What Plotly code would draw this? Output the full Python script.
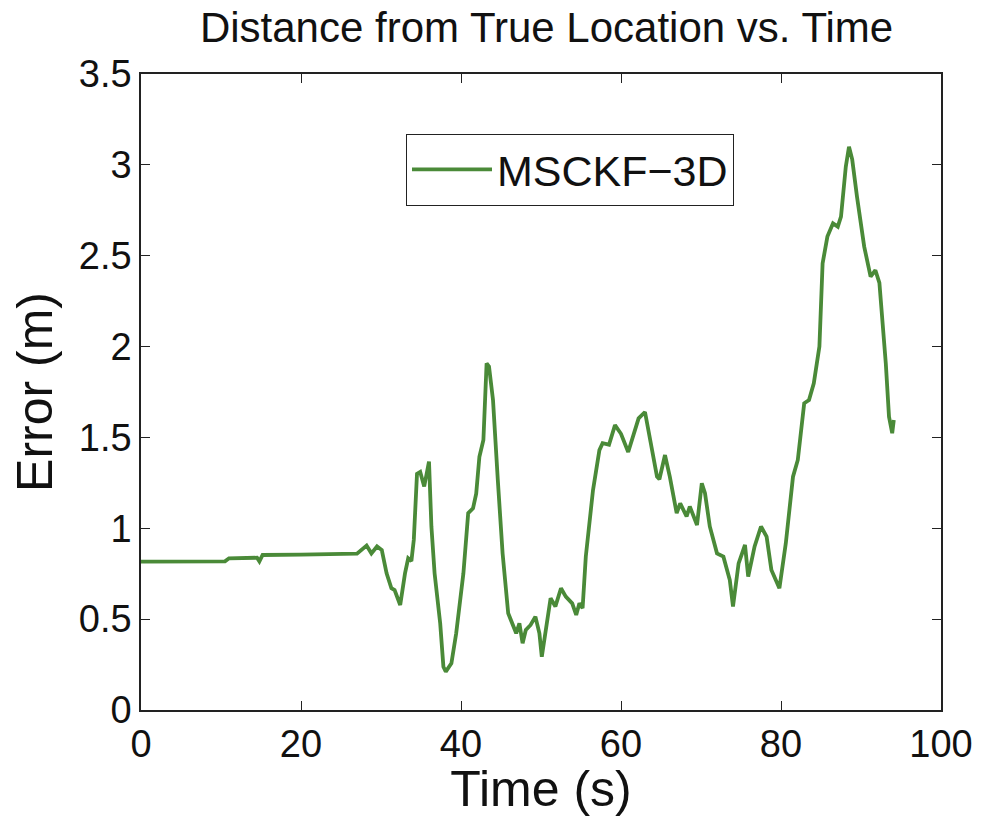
import plotly.graph_objects as go

# Time (s) and error (m)
time_s = [0, 5, 10.5, 11, 14.5, 14.8, 15.2, 20, 24.9, 27.0, 28.2, 28.8, 29.5, 30.1, 30.7, 31.3, 31.7,
          32.4, 33.0, 33.4, 33.8, 34.1, 34.5, 34.9, 35.4, 35.8, 36.0, 36.3, 36.7, 37.4, 37.8, 38.1,
          38.8, 39.4, 40.3, 40.9, 41.5, 41.9, 42.3, 42.8, 43.2, 43.5, 44.0, 44.6, 45.2, 45.9, 46.5,
          46.9, 47.3, 47.7, 48.1, 48.7, 49.3, 49.8, 50.1, 50.6, 51.2, 51.8, 52.5, 53.1, 53.9, 54.4,
          54.8, 55.2, 55.6, 56.5, 57.3, 57.7, 58.5, 59.25, 60.0, 60.9, 62.2, 63.0, 63.6, 64.5, 64.8,
          65.5, 66.1, 66.96, 67.4, 68.2, 68.6, 69.5, 70.1, 70.5, 71.1, 72.0, 72.8, 73.6, 74.0, 74.7,
          75.5, 75.9, 76.7, 77.5, 78.2, 78.8, 79.8, 80.6, 81.5, 82.1, 82.9, 83.5, 84.1, 84.8, 85.2,
          85.8, 86.5, 87.1, 87.5, 88.1, 88.5, 88.9, 89.5, 90.4, 91.2, 91.8, 92.3, 93.1, 93.5, 93.9,
          94.1]
error_m = [0.816, 0.816, 0.818, 0.835, 0.838, 0.818, 0.853, 0.855, 0.857, 0.86, 0.905, 0.862, 0.9,
           0.88, 0.752, 0.67, 0.66, 0.578, 0.752, 0.835, 0.82, 0.936, 1.30, 1.31, 1.23, 1.32, 1.367,
           1.01, 0.752, 0.477, 0.238, 0.211, 0.257, 0.422, 0.752, 1.083, 1.11, 1.19, 1.394, 1.486,
           1.908, 1.89, 1.706, 1.266, 0.862, 0.532, 0.459, 0.422, 0.477, 0.367, 0.44, 0.468, 0.514,
           0.422, 0.293, 0.44, 0.615, 0.57, 0.67, 0.624, 0.587, 0.523, 0.587, 0.56, 0.844, 1.21,
           1.43, 1.468, 1.46, 1.568, 1.52, 1.42, 1.605, 1.64, 1.504, 1.284, 1.27, 1.403, 1.284,
           1.083, 1.137, 1.065, 1.12, 1.018, 1.248, 1.193, 1.01, 0.862, 0.844, 0.715, 0.569, 0.807,
           0.908, 0.734, 0.90, 1.01, 0.954, 0.77, 0.67, 0.917, 1.284, 1.376, 1.688, 1.706, 1.798,
           2.0, 2.458, 2.605, 2.678, 2.66, 2.715, 2.99, 3.10, 3.03, 2.825, 2.55, 2.385, 2.42, 2.35,
           1.908, 1.614, 1.523, 1.596]

x_ticks = [0, 20, 40, 60, 80, 100]
y_ticks = [0, 0.5, 1, 1.5, 2, 2.5, 3, 3.5]
y_tick_labels = ["0", "0.5", "1", "1.5", "2", "2.5", "3", "3.5"]

FONT = "Liberation Sans, Arial, sans-serif"
LINE = "#4a8a38"

fig = go.Figure()
fig.add_trace(go.Scatter(x=time_s, y=error_m, mode="lines", name="MSCKF\u22123D",
                         line=dict(color=LINE, width=3.8)))

axis_common = dict(showline=True, linecolor="#222", linewidth=1.5, mirror="ticks",
                   ticks="inside", ticklen=9, tickwidth=1.2, tickcolor="#222",
                   showgrid=False, zeroline=False, automargin=False,
                   tickfont=dict(family=FONT, size=38, color="#111"))

fig.update_layout(
    width=983, height=817,
    margin=dict(l=141, r=42, t=74, b=107),
    paper_bgcolor="white", plot_bgcolor="white",
    title=dict(text="Distance from True Location vs. Time", x=0.556, xanchor="center",
               y=0.966, yanchor="middle", font=dict(family=FONT, size=42, color="#111")),
    xaxis=dict(range=[0, 100], tickvals=x_ticks, ticktext=[str(v) for v in x_ticks],
               title=dict(text="Time (s)", font=dict(family=FONT, size=50, color="#111"),
                          standoff=10),
               **axis_common),
    yaxis=dict(range=[0, 3.5], tickvals=y_ticks, ticktext=y_tick_labels,
               title=dict(text="Error (m)", font=dict(family=FONT, size=50, color="#111"),
                          standoff=10),
               **axis_common),
    legend=dict(x=0.331, y=0.906, xanchor="left", yanchor="top",
                bgcolor="white", bordercolor="#222", borderwidth=1.2, itemwidth=80,
                font=dict(family=FONT, size=43, color="#111")),
    showlegend=True,
)

fig.write_html("out.html")
